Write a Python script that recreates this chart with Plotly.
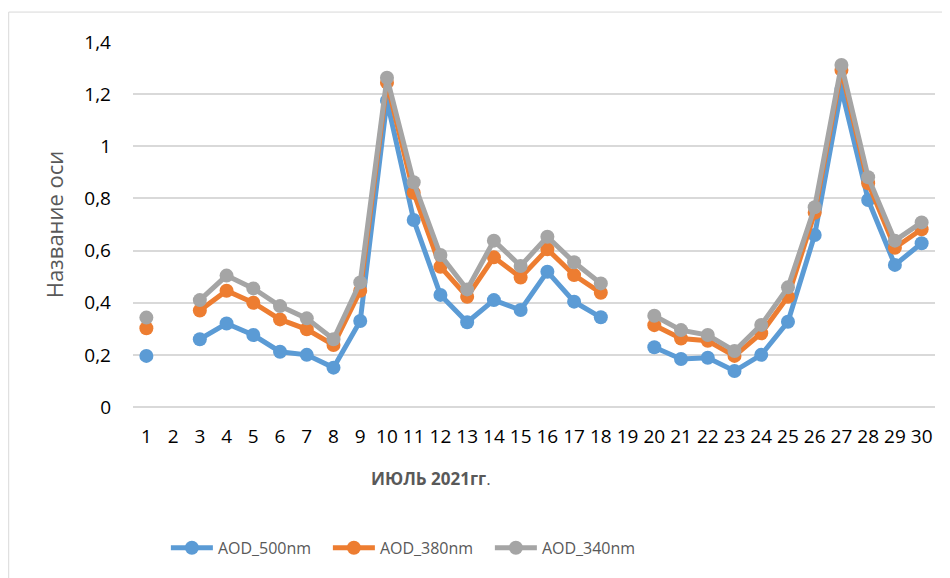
import plotly.graph_objects as go

days = [str(d) for d in range(1, 31)]

aod_500 = [0.196, None, 0.26, 0.32, 0.276, 0.212, 0.20, 0.151, 0.33, 1.175,
           0.717, 0.43, 0.325, 0.41, 0.372, 0.519, 0.404, 0.344, None, 0.229,
           0.184, 0.189, 0.138, 0.20, 0.327, 0.66, 1.22, 0.794, 0.545, 0.628]
aod_380 = [0.302, None, 0.37, 0.446, 0.40, 0.336, 0.298, 0.238, 0.446, 1.244,
           0.822, 0.538, 0.423, 0.574, 0.497, 0.605, 0.506, 0.438, None, 0.314,
           0.263, 0.254, 0.196, 0.283, 0.423, 0.745, 1.293, 0.858, 0.611, 0.682]
aod_340 = [0.343, None, 0.41, 0.504, 0.455, 0.387, 0.34, 0.26, 0.478, 1.263,
           0.862, 0.583, 0.451, 0.638, 0.541, 0.653, 0.555, 0.474, None, 0.35,
           0.295, 0.276, 0.215, 0.315, 0.459, 0.766, 1.312, 0.881, 0.638, 0.708]

series_names = ["AOD_500nm", "AOD_380nm", "AOD_340nm"]
series_values = [aod_500, aod_380, aod_340]
colors = ["#5B9BD5", "#ED7D31", "#A5A5A5"]

y_tickvals = [0, 0.2, 0.4, 0.6, 0.8, 1.0, 1.2, 1.4]
y_ticktext = ["0", "0,2", "0,4", "0,6", "0,8", "1", "1,2", "1,4"]

x_title = "<b>ИЮЛЬ 2021гг</b>."
y_title = "Название оси"

fig = go.Figure()
for name, vals, col in zip(series_names, series_values, colors):
    fig.add_trace(go.Scatter(
        x=days, y=vals, name=name, mode="lines+markers",
        line=dict(color=col, width=5),
        marker=dict(color=col, size=14),
        connectgaps=False,
    ))

font_family = "Open Sans, Liberation Sans, sans-serif"

fig.update_layout(
    width=942, height=570,
    margin=dict(l=125, r=15, t=34, b=171, autoexpand=False),
    paper_bgcolor="white", plot_bgcolor="white",
    showlegend=True,
    legend=dict(orientation="h", x=0.041, xanchor="left", y=-0.386, yanchor="middle",
                font=dict(family=font_family, size=16, color="#595959"),
                itemwidth=42, entrywidth=105, entrywidthmode="pixels",
                traceorder="normal"),
    xaxis=dict(type="category", categoryorder="array", categoryarray=days,
               range=[-0.5, 29.5],
               tickvals=days, ticktext=days, automargin=False, tickangle=0,
               showgrid=False, showline=False, zeroline=False, ticks="",
               tickfont=dict(family=font_family, size=19, color="#000000"),
               ticklabelstandoff=16),
    yaxis=dict(range=[0, 1.4], tickvals=y_tickvals, ticktext=y_ticktext,
               automargin=False,
               showgrid=True, gridcolor="#D9D9D9", gridwidth=1.5,
               zeroline=True, zerolinecolor="#D9D9D9", zerolinewidth=1.5,
               showline=False, ticks="",
               tickfont=dict(family=font_family, size=19, color="#000000"),
               ticklabelstandoff=21,
               title=dict(text=y_title, standoff=14,
                          font=dict(family=font_family, size=22, color="#595959"))),
    annotations=[dict(text=x_title, xref="paper", yref="paper",
                      x=0.372, y=-0.197, xanchor="center", yanchor="middle",
                      showarrow=False,
                      font=dict(family=font_family, size=17, color="#595959"))],
    shapes=[dict(type="rect", xref="paper", yref="paper",
                 x0=-0.155, x1=1.06, y0=-0.6, y1=1.082,
                 line=dict(color="#D9D9D9", width=1), fillcolor="rgba(0,0,0,0)",
                 layer="below")],
)

fig.write_html("out.html")
